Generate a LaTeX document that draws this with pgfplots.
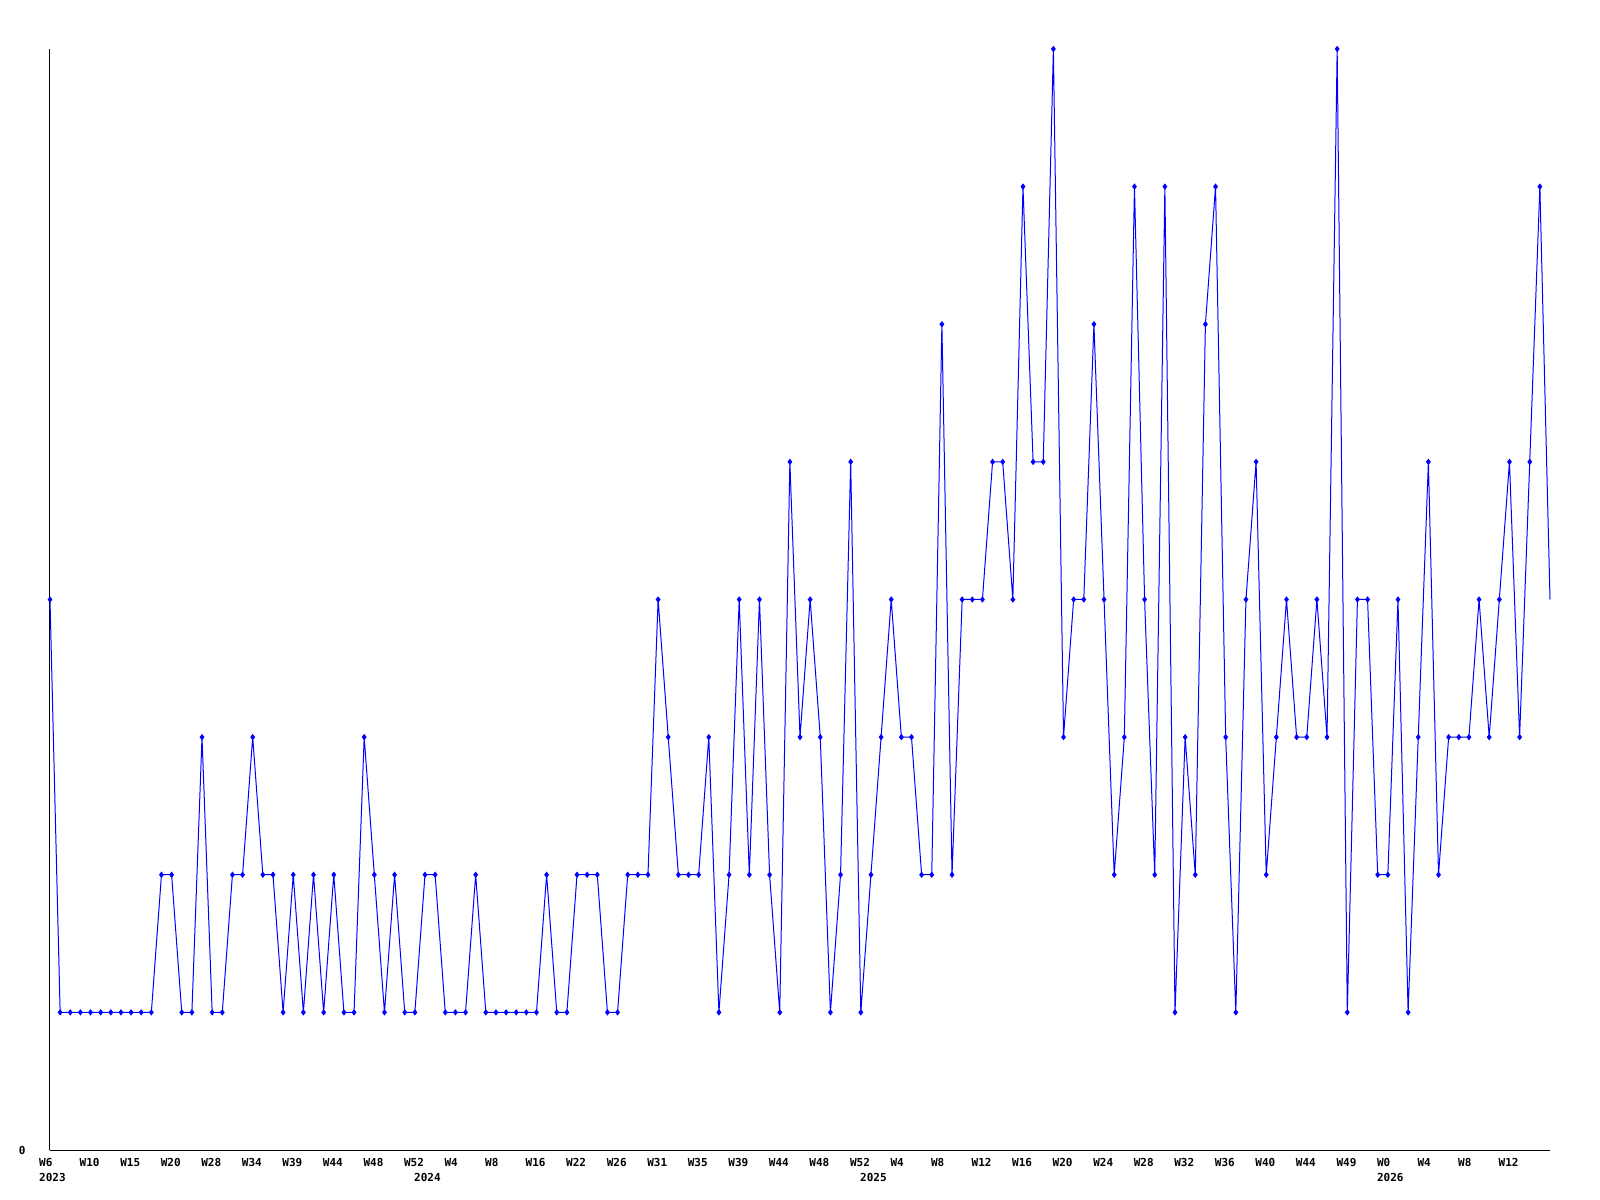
\documentclass[border=0pt]{standalone}
\usepackage{pgfplots}
\pgfplotsset{compat=1.18}
\usepackage{fontspec}
\setmainfont{DejaVu Sans Mono}
\newcommand\lbl{\fontsize{5.5bp}{6bp}\selectfont\bfseries}
\begin{document}
\begin{tikzpicture}
\begin{axis}[
  scale only axis,
  width=750bp, height=550.5bp,
  xmin=0, xmax=148, ymin=0, ymax=8,
  enlargelimits=false,
  clip=false,
  axis x line=bottom, axis y line=left,
  axis line style={-, black, line width=0.5bp},
  xtick={0,4,...,144},
  xticklabels={W6,W10,W15,W20,W28,W34,W39,W44,W48,W52,W4,W8,W16,W22,W26,W31,W35,W39,W44,W48,W52,W4,W8,W12,W16,W20,W24,W28,W32,W36,W40,W44,W49,W0,W4,W8,W12},
  ytick=\empty,
  major tick length=0pt,
  xticklabel style={anchor=north west, inner sep=0pt, xshift=-5.6bp, yshift=-4bp, font=\lbl},
]
\addplot[blue, line width=0.5bp, mark=diamond*, mark size=1.2bp, mark options={solid, fill=blue}] table {
x y
0 4
1 1
2 1
3 1
4 1
5 1
6 1
7 1
8 1
9 1
10 1
11 2
12 2
13 1
14 1
15 3
16 1
17 1
18 2
19 2
20 3
21 2
22 2
23 1
24 2
25 1
26 2
27 1
28 2
29 1
30 1
31 3
32 2
33 1
34 2
35 1
36 1
37 2
38 2
39 1
40 1
41 1
42 2
43 1
44 1
45 1
46 1
47 1
48 1
49 2
50 1
51 1
52 2
53 2
54 2
55 1
56 1
57 2
58 2
59 2
60 4
61 3
62 2
63 2
64 2
65 3
66 1
67 2
68 4
69 2
70 4
71 2
72 1
73 5
74 3
75 4
76 3
77 1
78 2
79 5
80 1
81 2
82 3
83 4
84 3
85 3
86 2
87 2
88 6
89 2
90 4
91 4
92 4
93 5
94 5
95 4
96 7
97 5
98 5
99 8
100 3
101 4
102 4
103 6
104 4
105 2
106 3
107 7
108 4
109 2
110 7
111 1
112 3
113 2
114 6
115 7
116 3
117 1
118 4
119 5
120 2
121 3
122 4
123 3
124 3
125 4
126 3
127 8
128 1
129 4
130 4
131 2
132 2
133 4
134 1
135 3
136 5
137 2
138 3
139 3
140 3
141 4
142 3
143 4
144 5
145 3
146 5
147 7
};
\addplot[blue, line width=0.5bp, no marks] coordinates {(147,7) (148,4)};
\node[anchor=north west, inner sep=0pt, font=\lbl] at ([xshift=-5.6bp, yshift=-11.5bp]axis cs:0,0) {2023};
\node[anchor=north west, inner sep=0pt, font=\lbl] at ([xshift=-5.6bp, yshift=-11.5bp]axis cs:37,0) {2024};
\node[anchor=north west, inner sep=0pt, font=\lbl] at ([xshift=-5.6bp, yshift=-11.5bp]axis cs:81,0) {2025};
\node[anchor=north west, inner sep=0pt, font=\lbl] at ([xshift=-5.6bp, yshift=-11.5bp]axis cs:132,0) {2026};
\node[anchor=east, inner sep=0pt, font=\lbl] at ([xshift=-12bp]axis cs:0,0) {0};
\end{axis}
\pgfresetboundingbox
\path[use as bounding box] ([shift={(-25bp,-25bp)}]current axis.south west) rectangle ([shift={(25bp,24.5bp)}]current axis.north east);
\end{tikzpicture}
\end{document}
